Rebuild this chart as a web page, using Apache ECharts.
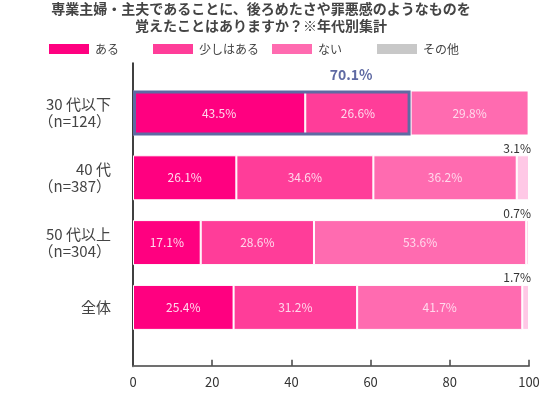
<!DOCTYPE html>
<html><head><meta charset="utf-8">
<script src="https://cdn.jsdelivr.net/npm/echarts@6/dist/echarts.min.js"></script>
<style>html,body{margin:0;padding:0;background:#fff}#c{width:550px;height:395px}</style>
</head><body><div id="c"></div>
<script>
const categories = ['30 代以下\n（n=124）', '40 代\n（n=387）', '50 代以上\n（n=304）', '全体'];
const seriesNames = ['ある', '少しはある', 'ない', 'その他'];
const aru = [43.5, 26.1, 17.1, 25.4];
const sukoshi = [26.6, 34.6, 28.6, 31.2];
const nai = [29.8, 36.2, 53.6, 41.7];
const sonota = [0, 3.1, 0.7, 1.7];
const highlight = [70.1, '-', '-', '-'];
const xTicks = [0, 20, 40, 60, 80, 100];

const colors = ['#ff0080', '#ff3d99', '#ff6bb0', '#ffc8e6'];
const legendColors = ['#ff0080', '#ff3d99', '#ff6bb0', '#c8c8c8'];
const legendLeft = [47, 151, 270, 375];
const FONT = '"Noto Sans CJK JP", "Noto Sans", sans-serif';

const chart = echarts.init(document.getElementById('c'));
const values = [aru, sukoshi, nai, sonota];

const barSeries = values.map((arr, i) => ({
  name: seriesNames[i],
  type: 'bar',
  stack: 'total',
  xAxisIndex: 0,
  yAxisIndex: 0,
  barWidth: 45,
  data: arr,
  itemStyle: { color: colors[i], borderColor: '#fff', borderWidth: 1 },
  label: i < 3 ? {
    show: true, position: 'inside', color: '#ffd9ec', fontSize: 12, fontFamily: FONT,
    formatter: p => p.value + '%'
  } : {
    show: true, position: ['100%', 0], align: 'right', verticalAlign: 'bottom',
    offset: [2, -1], color: '#333', fontSize: 12, fontFamily: FONT,
    formatter: p => p.value ? p.value + '%' : ''
  },
  emphasis: { disabled: true }
}));

barSeries.push({
  name: 'hl',
  type: 'bar',
  xAxisIndex: 0,
  yAxisIndex: 2,
  barWidth: 45,
  z: 5,
  data: highlight,
  itemStyle: { color: 'rgba(0,0,0,0)', borderColor: '#5f6aa3', borderWidth: 3 },
  label: {
    show: true, position: ['78.6%', -16], align: 'center', verticalAlign: 'middle',
    color: '#5f6aa3', fontWeight: 'bold', fontSize: 14, fontFamily: FONT,
    formatter: p => p.value + '%'
  },
  emphasis: { disabled: true }
});

chart.setOption({
  animation: false,
  title: {
    text: '専業主婦・主夫であることに、後ろめたさや罪悪感のようなものを\n覚えたことはありますか？※年代別集計',
    left: 261, top: 0, padding: 0, textAlign: 'center',
    textStyle: { fontSize: 14, fontWeight: 'bold', color: '#444', lineHeight: 17, fontFamily: FONT }
  },
  legend: seriesNames.map((n, i) => ({
    data: [{ name: n, itemStyle: { color: legendColors[i] } }],
    left: legendLeft[i], top: 42, itemWidth: 42, itemHeight: 12, icon: 'rect',
    selectedMode: false, padding: 0, itemGap: 0,
    textStyle: { fontSize: 12, color: '#444', fontFamily: FONT }
  })),
  grid: [
    { left: 133, right: 21, top: 80.6, height: 259.2 },
    { left: 133, right: 21, top: 63, bottom: 28.5 }
  ],
  xAxis: [
    {
      type: 'value', gridIndex: 0, position: 'bottom', offset: 26,
      min: xTicks[0], max: xTicks[xTicks.length - 1], interval: 20,
      axisLine: { show: true, onZero: false, lineStyle: { color: '#707070', width: 2 } },
      axisTick: { show: true, inside: true, length: 6, lineStyle: { color: '#444', width: 1.5 } },
      axisLabel: { fontSize: 13, color: '#333', margin: 10, fontFamily: FONT },
      splitLine: { show: false }
    },
    { type: 'value', gridIndex: 1, min: 0, max: 100, show: false }
  ],
  yAxis: [
    {
      type: 'category', gridIndex: 0, inverse: true, data: categories,
      axisLine: { show: false }, axisTick: { show: false },
      axisLabel: { fontSize: 15, color: '#444', lineHeight: 17, margin: 22, fontFamily: FONT, align: 'right' }
    },
    {
      type: 'category', gridIndex: 1, data: [''],
      axisLine: { show: true, onZero: false, lineStyle: { color: '#000', width: 1.5 } },
      axisTick: { show: false }, axisLabel: { show: false }
    },
    {
      type: 'category', gridIndex: 0, inverse: true, data: categories, show: false
    }
  ],
  series: barSeries
});
</script></body></html>
